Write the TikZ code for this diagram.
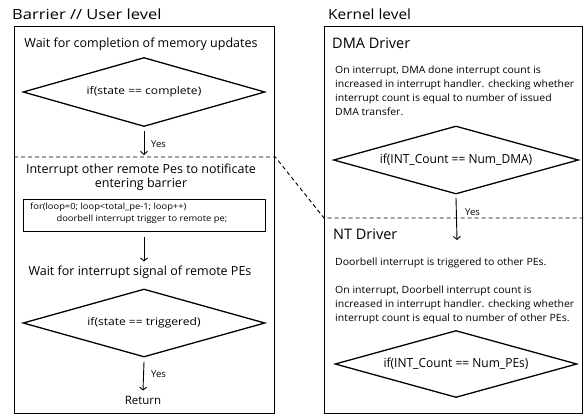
\documentclass[tikz,border=0pt]{standalone}
\usepackage{fontspec}
\usepackage{graphicx}
\setmainfont{Open Sans}
\newcommand\hsc[2]{\scalebox{#1}[1]{#2}}
\newcommand\lines[1]{\begin{tabular}{@{}l@{}}#1\end{tabular}}
\usetikzlibrary{shapes.geometric,arrows.meta}
\begin{document}
\begin{tikzpicture}[x=1pt,y=-1pt,
  frame/.style={draw,line width=1.3pt,anchor=north west,inner sep=0pt},
  dia/.style={draw,diamond,line width=1.3pt,inner sep=0pt,aspect=3.5},
  head/.style={font=\fontsize{12.5}{14}\selectfont,inner sep=0pt},
  title/.style={font=\fontsize{14}{16}\selectfont,inner sep=0pt,anchor=west},
  drv/.style={font=\fontsize{14.5}{17}\selectfont,inner sep=0pt,anchor=west},
  para/.style={font=\fontsize{10}{14}\selectfont,inner sep=0pt,align=left,anchor=north west},
  yes/.style={font=\fontsize{9.5}{11}\selectfont,inner sep=0pt,anchor=west},
  arr/.style={line width=0.9pt,-{Straight Barb[length=3pt,width=7pt]}},
  dline/.style={line width=0.9pt,dash pattern=on 4pt off 3pt}]
\useasboundingbox (0,0) rectangle (584,416);
% titles
\node[title] (t1) at (12,14) {\hsc{1.18}{Barrier // User level}};
\node[title] (t2) at (328,14) {\hsc{1.1}{Kernel level}};
% frames
\node[frame,minimum width=260pt,minimum height=387pt] (ubox) at (14,26) {};
\node[frame,minimum width=258pt,minimum height=387pt] (kbox) at (324,26) {};
% left column
\node[head] (w1) at (141,44) {Wait for completion of memory updates};
\node[dia,minimum width=242pt,minimum height=69pt] (d1) at (144,92) {\fontsize{10.5}{12}\selectfont\hsc{1.15}{if(state == complete)}};
\coordinate (e1) at (144,155);
\draw[arr] ([yshift=-4pt]d1.south) -- (e1);
\node[yes] (y1) at (151,144) {Yes};
\node[head,align=center] (intr) at (141,177) {Interrupt other remote Pes to notificate\\entering barrier};
\node[frame,minimum width=242pt,minimum height=32pt] (loop) at (23,199) {};
\node[inner sep=0pt,anchor=west,font=\fontsize{8.5}{12}\selectfont] (looptxt) at (30,213) {\hsc{1.1}{\lines{for(loop=0; loop<total\_pe-1; loop++)\\\hspace*{24pt}doorbell interrupt trigger to remote pe;}}};
\node[head] (w2) at (140,272) {Wait for interrupt signal of remote PEs};
\draw[arr] ([yshift=-5pt]loop.south -| e1) -- ([yshift=4pt]w2.north -| e1);
\node[dia,minimum width=242pt,minimum height=68pt] (d2) at (144,323) {\fontsize{10.5}{12}\selectfont\hsc{1.15}{if(state == triggered)}};
\node[head,font=\fontsize{11.5}{14}\selectfont] (ret) at (143,400) {Return};
\draw[arr] ([yshift=-4pt]d2.south) -- ([yshift=5pt]ret.north);
\node[yes] (y2) at (151,374) {Yes};
% right column
\node[drv] (dma) at (332,43) {DMA Driver};
\node[para] (dmap) at (335,63) {\hsc{1.05}{\lines{On interrupt, DMA done interrupt count is\\increased in interrupt handler. checking whether\\interrupt count is equal to number of issued\\DMA transfer.}}};
\node[dia,minimum width=245pt,minimum height=68pt] (d3) at (456,160) {\fontsize{12.5}{15}\selectfont\hsc{0.96}{if(INT\_Count == Num\_DMA)}};
\coordinate (e3) at (457,240);
\draw[arr] ([yshift=-3pt]d3.south) -- (e3);
\node[yes] (y3) at (465,212) {Yes};
\node[drv] (nt) at (333,234) {NT Driver};
\node[para] (ntp1) at (335,255) {\hsc{1.05}{\lines{Doorbell interrupt is triggered to other PEs.}}};
\node[para] (ntp2) at (335,283) {\hsc{1.05}{\lines{On interrupt, Doorbell interrupt count is\\increased in interrupt handler. checking whether\\interrupt count is equal to number of other PEs.}}};
\node[dia,minimum width=242pt,minimum height=67pt] (d4) at (456,364) {\fontsize{12.5}{15}\selectfont\hsc{0.96}{if(INT\_Count == Num\_PEs)}};
% dashed separator
\coordinate (s1) at (ubox.west |- 0,157);
\coordinate (s2) at (ubox.east |- 0,157);
\coordinate (s3) at (kbox.west |- 0,218);
\coordinate (s4) at (kbox.east |- 0,218);
\draw[dline] (s1) -- (s2) -- (s3) -- (s4);
\end{tikzpicture}
\end{document}
